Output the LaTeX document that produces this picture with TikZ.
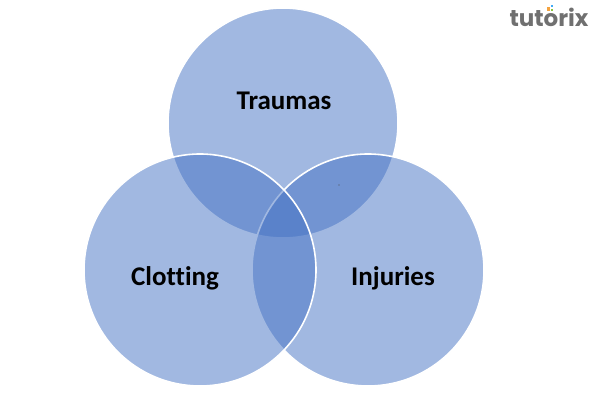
\documentclass[tikz,border=0pt]{standalone}
\usepackage{fontspec}
\setmainfont{Carlito}[Ligatures=NoCommon]
\newfontfamily\logofont{Poppins}
\definecolor{vennblue}{HTML}{4472C4}
\definecolor{logogray}{HTML}{707070}
\definecolor{dotorange}{HTML}{F4A340}
\definecolor{dotgreen}{HTML}{8CC63F}
\definecolor{dotblue}{HTML}{3FA9F5}
\begin{document}
\begin{tikzpicture}[x=1pt,y=-1pt,
  venn/.style={fill=vennblue,fill opacity=0.5,draw=white,draw opacity=1,line width=1.6pt},
  lbl/.style={font=\fontsize{27}{31}\selectfont\bfseries,text=black,inner sep=0pt}]
\useasboundingbox[fill=white] (0,0) rectangle (600,406);
\path[venn] (283,123) circle[radius=115];
\path[venn] (368,270) circle[radius=116];
\path[venn] (200,270) circle[radius=116];
\node[lbl] (traumas) at (284,101) {Traumas};
\node[lbl] (clotting) at (175,278) {Clotting};
\node[lbl] (injuries) at (393,278) {Injuries};
\fill[black!70] (339,185) circle[radius=0.6];
\node[font=\logofont\fontsize{23}{26}\selectfont\bfseries,text=logogray,inner sep=0pt,anchor=base] (logo) at (549,27) {tutorix};
\fill[dotorange] (546.5,7.5) rectangle (550,11);
\fill[dotgreen] (551,9.5) rectangle (553,11.5);
\fill[dotblue] (551,5) rectangle (553,7);
\end{tikzpicture}
\end{document}
